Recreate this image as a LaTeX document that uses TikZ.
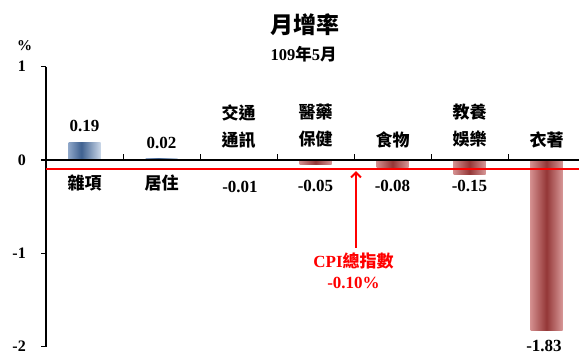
\documentclass[tikz,border=0pt]{standalone}
\usepackage{fontspec}
\setmainfont{Liberation Serif}
\newfontfamily\cjk{Noto Sans CJK TC}
\usetikzlibrary{arrows.meta}
\definecolor{bL}{HTML}{8EA6C8}
\definecolor{bD}{HTML}{3F6190}
\definecolor{bR}{HTML}{CAD7E8}
\definecolor{rL}{HTML}{D38E8E}
\definecolor{rD}{HTML}{943737}
\definecolor{rR}{HTML}{D69696}
\pgfdeclarehorizontalshading{bluebar}{100bp}{color(0bp)=(bL); color(25bp)=(bL); color(45bp)=(bD); color(75bp)=(bR); color(100bp)=(bR)}
\pgfdeclarehorizontalshading{redbar}{100bp}{color(0bp)=(rL); color(25bp)=(rL); color(50bp)=(rD); color(75bp)=(rR); color(100bp)=(rR)}
\begin{document}
\begin{tikzpicture}[x=1pt,y=-1pt,
  num/.style={font=\bfseries\fontsize{17}{20}\selectfont, inner sep=0pt},
  cat/.style={font=\cjk\bfseries\fontsize{17}{27}\selectfont, align=center, inner sep=0pt},
  ylab/.style={font=\bfseries\fontsize{16}{18}\selectfont, inner sep=0pt, anchor=east},
  bbar/.style={shading=bluebar},
  rbar/.style={shading=redbar},
  cpitext/.style={font=\bfseries\fontsize{17}{20}\selectfont, inner sep=0pt, text=red},
  axisline/.style={black, line width=1.2pt},
  zeroline/.style={black, line width=2pt},
  cpiline/.style={red, line width=1.8pt}]
\useasboundingbox (0,0) rectangle (579,354);
% bars
\shade[bbar] (68.5,160) rectangle (100.5,142.27);
\shade[bbar] (145.5,160) rectangle (177.5,158.13);
\shade[rbar] (222.5,160) rectangle (254.5,160.93);
\shade[rbar] (299.5,160) rectangle (331.5,164.67);
\shade[rbar] (376.5,160) rectangle (408.5,167.47);
\shade[rbar] (453.5,160) rectangle (485.5,174);
\shade[rbar] (530.5,160) rectangle (562.5,330.8);
% axes
\coordinate (ytop) at (46,66.7);
\coordinate (ybot) at (46,346.7);
\coordinate (xl) at (46,160);
\coordinate (xr) at (579,160);
\coordinate (cl) at (46,169.3);
\coordinate (cr) at (579,169.3);
\draw[axisline] (ytop) -- (ybot);
\foreach \yy in {66.7,160,253.3,346.7} \draw[axisline] (41,\yy) -- (46,\yy);
\foreach \xx in {123,200,277,354,431,508} \draw[black, line width=1pt] (\xx,154) -- (\xx,160);
\draw[zeroline] (xl) -- (xr);
\draw[cpiline] (cl) -- (cr);
% y labels
\node[ylab] (y1) at (26,66.7) {1};
\node[ylab] (y0) at (26,160) {0};
\node[ylab] (ym1) at (26,253.3) {-1};
\node[ylab] (ym2) at (26,346.5) {-2};
\node[font=\bfseries\fontsize{15}{17}\selectfont, inner sep=0pt] (pct) at (24.5,45.5) {\%};
% title
\node[font=\cjk\bfseries\fontsize{23}{25}\selectfont, inner sep=0pt] (title) at (305,25) {月增率};
\node[font=\bfseries\fontsize{16.5}{18}\selectfont, inner sep=0pt] (sub) at (303.5,54) {109{\cjk 年}5{\cjk 月}};
% values
\node[num] (v1) at (84.5,126) {0.19};
\node[num] (v2) at (161.5,143) {0.02};
\node[num] (v3) at (240,187) {-0.01};
\node[num] (v4) at (315.5,186) {-0.05};
\node[num] (v5) at (392.5,186) {-0.08};
\node[num] (v6) at (469.5,186) {-0.15};
\node[num] (v7) at (544,345.5) {-1.83};
% categories
\node[cat] (c1) at (84.5,183) {雜項};
\node[cat] (c2) at (161.5,183) {居住};
\node[cat] (c3) at (238.5,127) {交通\\通訊};
\node[cat] (c4) at (315.5,126) {醫藥\\保健};
\node[cat] (c5) at (392.5,139.5) {食物};
\node[cat] (c6) at (469.5,126) {教養\\娛樂};
\node[cat] (c7) at (546.5,139.5) {衣著};
% CPI annotation
\node[cpitext] (cpi1) at (353.5,261) {CPI{\cjk 總指數}};
\node[cpitext] (cpi2) at (353.5,283) {-0.10\%};
\coordinate (arrtop) at (356,171);
\draw[red, line width=2pt, -{Straight Barb[length=5pt,width=10pt]}, shorten <=5pt] (cpi1.north -| arrtop) -- (arrtop);
\end{tikzpicture}
\end{document}
